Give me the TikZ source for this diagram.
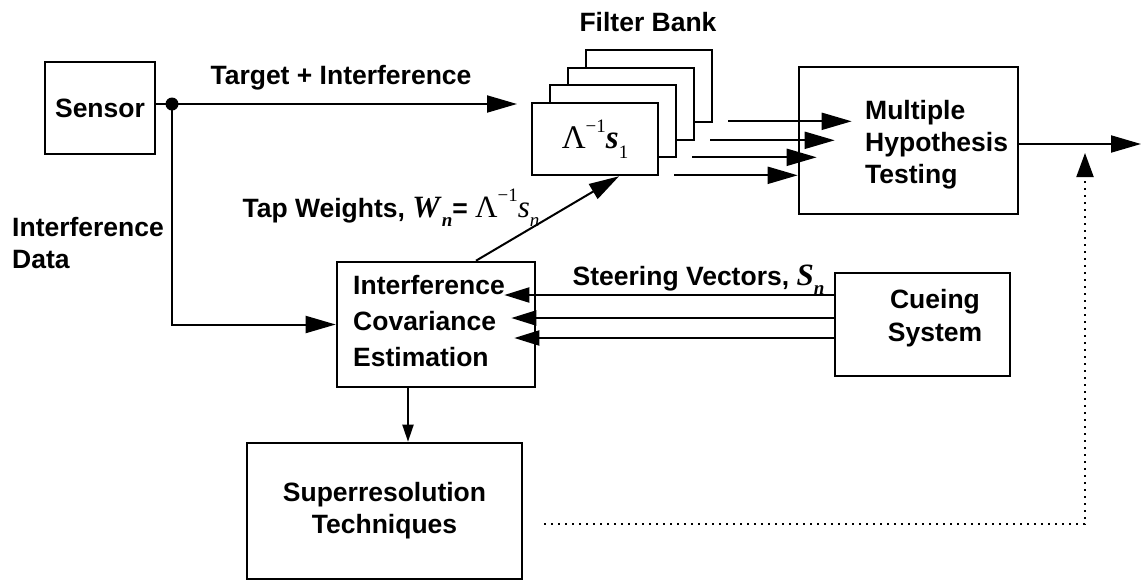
\documentclass[tikz,border=0pt]{standalone}
\usepackage{fontspec}
\setmainfont{Liberation Sans}
\newfontfamily\tms{Liberation Serif}
\usetikzlibrary{arrows.meta,calc}
\newcommand{\mysup}[1]{\raisebox{0.5em}{\fontsize{19}{19}\selectfont #1}}
\newcommand{\mysub}[1]{\raisebox{-0.3em}{\fontsize{19}{19}\selectfont #1}}
\newcommand{\mth}{\fontsize{31}{32}\selectfont\tms}
\begin{document}
\begin{tikzpicture}[x=1pt,y=-1pt,
  box/.style={draw,line width=2.6pt,fill=white,inner sep=0pt,align=center,
    font=\fontsize{26.5}{32}\selectfont\bfseries},
  lbl/.style={font=\fontsize{26.5}{32}\selectfont\bfseries,inner sep=0pt},
  conn/.style={line width=2pt},
  arr/.style={conn,-{Triangle[length=30pt,width=17pt]}},
  sarr/.style={conn,-{Triangle[length=25pt,width=15pt]}},
  tarr/.style={conn,-{Triangle[length=17pt,width=11pt]}},
  dots/.style={line width=2pt,dash pattern=on 2pt off 5pt},
]
\useasboundingbox (0,0) rectangle (1143,582);

% boxes
\node[box,minimum width=110pt,minimum height=92pt] (sensor) at (100,108) {Sensor};
\node[box,minimum width=126pt,minimum height=72pt] (fb4) at (649,86) {};
\node[box,minimum width=126pt,minimum height=72pt] (fb3) at (631,104) {};
\node[box,minimum width=126pt,minimum height=72pt] (fb2) at (613,121) {};
\node[box,minimum width=126pt,minimum height=72pt] (fb1) at (595,139)
  {\fontsize{33}{34}\selectfont\mdseries\tms Λ\mysup{−1}\textbf{\textit{s}}\mysub{1}};
\node[box,minimum width=219pt,minimum height=147pt] (mht) at (908.5,140.5) {};
\node[lbl,align=left,anchor=west] (mhtlabel) at (865,145) {Multiple\\Hypothesis\\Testing};
\node[box,minimum width=198pt,minimum height=125pt] (ice) at (436,324.5) {};
\node[lbl,align=left,anchor=west,font=\fontsize{26.5}{36}\selectfont\bfseries] (icelabel) at (353,321)
  {Interference\\Covariance\\Estimation};
\node[box,minimum width=175pt,minimum height=103pt] (cue) at (922.5,324.5) {};
\node[lbl,align=center,font=\fontsize{26.5}{33}\selectfont\bfseries] (cuelabel) at (935,318) {Cueing\\System};
\node[box,minimum width=275pt,minimum height=136pt] (sup) at (384.5,511) {Superresolution\\Techniques};

% labels
\node[lbl] (fblabel) at (648,22) {Filter Bank};
\node[lbl] (tilabel) at (341,78) {Target + Interference};
\node[lbl,align=left,anchor=west] (idlabel) at (12,243.5) {Interference\\Data};
\node[lbl] (taplabel) at (391,208) {Tap Weights, {\mth\textit{W}\mysub{\textit{n}}}= {\mth\mdseries Λ\mysup{−1}\textit{s}\mysub{\textit{n}}}};
\node[lbl] (stlabel) at (698.5,280) {Steering Vectors, {\mth\textit{S}\mysub{\textit{n}}}};

% coordinates
\coordinate (dot) at (172,104);
\coordinate (tgt) at (517,104);
\coordinate (out) at (1141,144);
\coordinate (dtip) at (1085,153);

% connectors
\draw[conn] (sensor.east |- dot) -- (dot);
\draw[arr] (dot) -- (tgt);
\fill (dot) circle (6.5pt);
\draw[arr] (dot) |- (ice.west);
\draw[arr] ([xshift=40pt]ice.north) -- ([xshift=24pt]fb1.south);
\draw[arr] ([xshift=15pt,yshift=2pt]fb4.south east) -- ([xshift=54pt,yshift=2pt]mht.west |- fb4.south east);
\draw[arr] ([xshift=15pt,yshift=1pt]fb3.south east) -- ([xshift=37pt,yshift=1pt]mht.west |- fb3.south east);
\draw[arr] ([xshift=15pt,yshift=1pt]fb2.south east) -- ([xshift=19pt,yshift=1pt]mht.west |- fb2.south east);
\draw[arr] ([xshift=15pt,yshift=1pt]fb1.south east) -- ([yshift=1pt]mht.west |- fb1.south east);
\draw[arr] (mht.east |- out) -- (out);
\draw[sarr] ([yshift=29.5pt]cue.west) -- ([xshift=-32pt,yshift=29.5pt]ice.east);
\draw[sarr] ([yshift=6.5pt]cue.west) -- ([xshift=-25pt,yshift=6.5pt]ice.east);
\draw[sarr] ([yshift=-13.5pt]cue.west) -- ([xshift=-22pt,yshift=-13.5pt]ice.east);
\draw[tarr] ([xshift=-28pt]ice.south) -- ([xshift=-28pt]ice.south |- sup.north);
\draw[dots] ([xshift=21pt,yshift=-13pt]sup.east) -| ([yshift=-22pt]dtip);
\draw[conn,-{Triangle[length=24pt,width=17pt]}] ([yshift=-22pt]dtip) -- (dtip);
\end{tikzpicture}
\end{document}
